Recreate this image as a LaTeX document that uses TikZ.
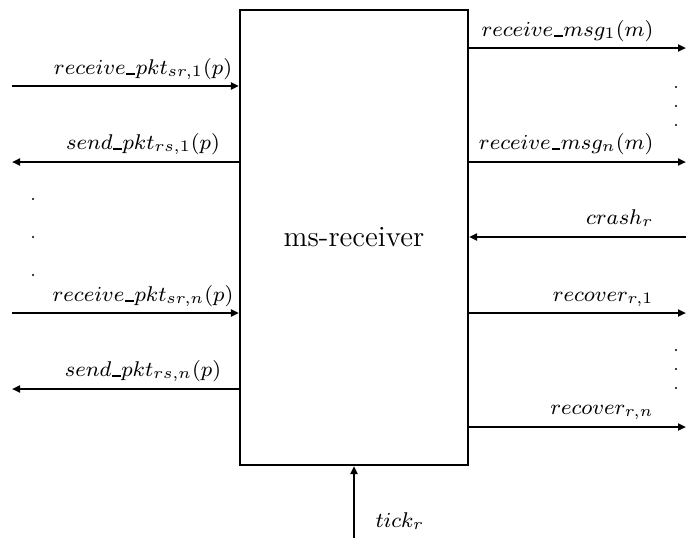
\documentclass[tikz,border=0pt]{standalone}
\usetikzlibrary{arrows.meta}
\newcommand\usc{\mbox{\kern0.3pt\rule[-0.2pt]{0.38em}{0.45pt}\kern0.3pt}}
\begin{document}
\begin{tikzpicture}[x=0.375pt,y=-0.375pt,
  conn/.style={line width=0.8pt,-{Triangle[length=3pt,width=2.6pt]}},
  lbl/.style={anchor=base,inner sep=0pt,font=\fontsize{8.4}{10}\selectfont},
  rlbl/.style={anchor=base east,inner sep=0pt,font=\fontsize{8.4}{10}\selectfont},
  dotmark/.style={fill=black,circle,inner sep=0pt,minimum size=0.9pt}]
\useasboundingbox (0,0) rectangle (686,538);
\node[draw,line width=0.8pt,minimum width=85.5pt,minimum height=170.6pt,inner sep=0pt,font=\fontsize{11}{13}\selectfont] (rcv) at (354,237.5) {ms-receiver};
% left side
\coordinate (L1) at (12,86);
\coordinate (L2) at (12,162);
\coordinate (L3) at (12,313);
\coordinate (L4) at (12,389);
\draw[conn] (L1) -- (L1 -| rcv.west);
\draw[conn] (L2 -| rcv.west) -- (L2);
\draw[conn] (L3) -- (L3 -| rcv.west);
\draw[conn] (L4 -| rcv.west) -- (L4);
\node[lbl] (t1) at (143,74) {$receive\usc pkt_{sr,1}(p)$};
\node[lbl] (t2) at (143,149) {$send\usc pkt_{rs,1}(p)$};
\node[lbl] (t3) at (143,301) {$receive\usc pkt_{sr,n}(p)$};
\node[lbl] (t4) at (143,376) {$send\usc pkt_{rs,n}(p)$};
\node[dotmark] (d1) at (33,199) {};
\node[dotmark] (d2) at (33,237) {};
\node[dotmark] (d3) at (33,275) {};
% right side
\coordinate (R1) at (686,48);
\coordinate (R2) at (686,162);
\coordinate (R3) at (686,237);
\coordinate (R4) at (686,313);
\coordinate (R5) at (686,427);
\draw[conn] (R1 -| rcv.east) -- (R1);
\draw[conn] (R2 -| rcv.east) -- (R2);
\draw[conn] (R3) -- (R3 -| rcv.east);
\draw[conn] (R4 -| rcv.east) -- (R4);
\draw[conn] (R5 -| rcv.east) -- (R5);
\node[rlbl] (u1) at (654,36) {$receive\usc msg_1(m)$};
\node[rlbl] (u2) at (654,149) {$receive\usc msg_n(m)$};
\node[rlbl] (u3) at (654,224) {$crash_r$};
\node[rlbl] (u4) at (654,301) {$recover_{r,1}$};
\node[rlbl] (u5) at (654,414) {$recover_{r,n}$};
\node[dotmark] (e1) at (676,87) {};
\node[dotmark] (e2) at (676,106) {};
\node[dotmark] (e3) at (676,125) {};
\node[dotmark] (e4) at (676,350) {};
\node[dotmark] (e5) at (676,369) {};
\node[dotmark] (e6) at (676,388) {};
% bottom
\coordinate (B) at (354,538);
\draw[conn] (B) -- (rcv.south);
\node[lbl,anchor=base west] (tk) at (375,527) {$tick_r$};
\end{tikzpicture}
\end{document}
